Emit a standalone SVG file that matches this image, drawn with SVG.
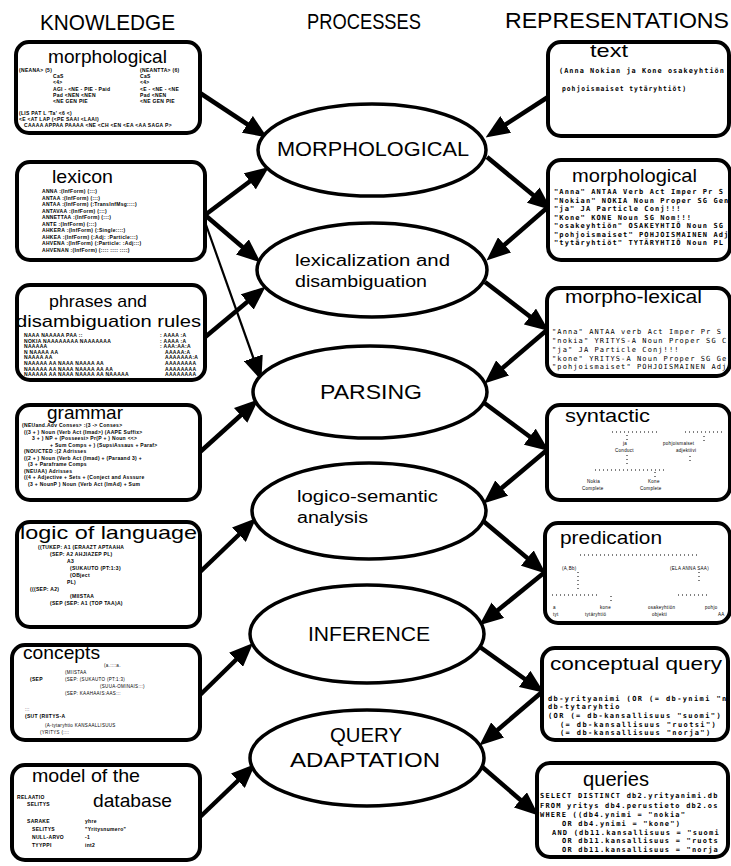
<svg xmlns="http://www.w3.org/2000/svg" width="731" height="866" viewBox="0 0 731 866">
<defs>
<marker id="ah" markerUnits="userSpaceOnUse" markerWidth="24" markerHeight="20" viewBox="0 0 24 20" refX="14" refY="10" orient="auto">
<path d="M0,0 L24,10 L0,20 z" fill="#000"/>
</marker>
<style>
.box{fill:#fff;stroke:#000;stroke-width:4}
.ell{fill:#fff;stroke:#000;stroke-width:3.5}
text{font-family:"Liberation Sans",Arial,sans-serif;fill:#000}
.hdr{font-size:22px}
.ttl{font-size:19px}
.proc{font-size:21px}
.proc2{font-size:16px}
.tiny{font-size:5px;font-weight:bold;letter-spacing:0.3px}
.tl{font-size:4.5px;letter-spacing:0.3px}
.mono{font-family:"DejaVu Sans Mono","Liberation Mono",monospace;font-size:7px;font-weight:bold;letter-spacing:1.1px}
.monol{font-family:"DejaVu Sans Mono","Liberation Mono",monospace;font-size:7px;letter-spacing:1.1px}
.conn line{stroke:#000;stroke-width:4.5;marker-end:url(#ah)}
.conn line.thin{stroke-width:2.2}
.dots{stroke:#000;stroke-width:1;stroke-dasharray:1 3;fill:none}
</style>
</defs>
<rect width="731" height="866" fill="#fff"/>

<g id="headers">
<text class="hdr" x="40" y="30" textLength="135" lengthAdjust="spacingAndGlyphs">KNOWLEDGE</text>
<text class="hdr" x="307" y="29" textLength="114" lengthAdjust="spacingAndGlyphs">PROCESSES</text>
<text class="hdr" x="505" y="28" textLength="224" lengthAdjust="spacingAndGlyphs">REPRESENTATIONS</text>
</g>

<g id="connectors" class="conn">
<line x1="200" y1="93" x2="259" y2="132"/>
<line x1="205" y1="215" x2="261" y2="173"/>
<line x1="205" y1="215" x2="253" y2="256"/>
<line class="thin" x1="205" y1="222" x2="258" y2="371"/>
<line x1="204" y1="338" x2="258" y2="293"/>
<line x1="200" y1="452" x2="251" y2="406"/>
<line x1="200" y1="572" x2="249" y2="525"/>
<line x1="200" y1="695" x2="246" y2="650"/>
<line x1="200" y1="817" x2="248" y2="771"/>
<line x1="548" y1="97" x2="494" y2="132"/>
<line x1="487" y1="157" x2="544" y2="204"/>
<line x1="548" y1="207" x2="494" y2="254"/>
<line x1="485" y1="282" x2="541" y2="325"/>
<line x1="547" y1="330" x2="492" y2="377"/>
<line x1="483" y1="402" x2="541" y2="445"/>
<line x1="547" y1="450" x2="491" y2="497"/>
<line x1="482" y1="520" x2="538" y2="567"/>
<line x1="545" y1="572" x2="487" y2="619"/>
<line x1="480" y1="647" x2="536" y2="687"/>
<line x1="542" y1="692" x2="487" y2="739"/>
<line x1="480" y1="765" x2="531" y2="809"/>
</g>

<g id="k-morphological">
<rect class="box" x="16" y="42" width="184" height="91" rx="13"/>
<text class="ttl" x="48" y="63" textLength="119" lengthAdjust="spacingAndGlyphs">morphological</text>
<text class="tiny" x="19" y="72">(NEANA&gt;  (5)</text><text class="tiny" x="140" y="72">(NEANTTA&gt;  (6)</text>
<text class="tiny" x="53" y="78">CaS</text><text class="tiny" x="140" y="78">CaS</text>
<text class="tiny" x="53" y="84">&lt;4&gt;</text><text class="tiny" x="140" y="84">&lt;4&gt;</text>
<text class="tiny" x="53" y="91">AGI - &lt;NE - PIE - Paid</text><text class="tiny" x="140" y="91">&lt;E - &lt;NE - &lt;NE</text>
<text class="tiny" x="53" y="97">Pad  &lt;NEN  &lt;NEN</text><text class="tiny" x="140" y="97">Pad  &lt;NEN</text>
<text class="tiny" x="53" y="103">&lt;NE  GEN  PIE</text><text class="tiny" x="140" y="103">&lt;NE  GEN  PIE</text>
<text class="tiny" x="19" y="115">(LIS PAT L 'Ta'  &lt;6  &lt;)</text>
<text class="tiny" x="19" y="121">&lt;E  &lt;AT  LAP  (&lt;PE  SAAI  &lt;LAAI)</text>
<text class="tiny" x="24" y="127">CAAAA APPAA PAAAA &lt;NE &lt;CH &lt;EN &lt;EA &lt;AA SAGA P&gt;</text>
</g>

<g id="k-lexicon">
<rect class="box" x="17" y="162" width="188" height="98" rx="13"/>
<text class="ttl" x="52" y="183" textLength="61" lengthAdjust="spacingAndGlyphs">lexicon</text>
<text class="tiny" x="42" y="193">ANNA :(InfForm) (:::)</text>
<text class="tiny" x="42" y="199.5">ANTAA :(InfForm) (:::)</text>
<text class="tiny" x="42" y="206">ANTAA :(InfForm) (:TransInfMsg::::)</text>
<text class="tiny" x="42" y="212.5">ANTAVAA :(InfForm) (:::)</text>
<text class="tiny" x="42" y="219">ANNETTAA :(InfForm) (:::)</text>
<text class="tiny" x="42" y="225.5">ANTE :(InfForm) (:::)</text>
<text class="tiny" x="42" y="232">AHKERA :(InfForm) (:Single::::)</text>
<text class="tiny" x="42" y="238.5">AHKEA :(InfForm) (:Adj: :Particle:::)</text>
<text class="tiny" x="42" y="245">AHVENA :(InfForm) (:Particle: :Adj:::)</text>
<text class="tiny" x="42" y="251.5">AHVENAN :(InfForm) (:::: :::: ::::)</text>
</g>

<g id="k-phrases">
<rect class="box" x="17" y="285" width="188" height="95" rx="13"/>
<text class="ttl" x="49" y="307" style="font-size:17px" textLength="98" lengthAdjust="spacingAndGlyphs">phrases and</text>
<text class="ttl" x="16" y="327" style="font-size:17px" textLength="185" lengthAdjust="spacingAndGlyphs">disambiguation rules</text>
<text class="tiny" x="24" y="337">NAAA NAAAAA PAA ::</text><text class="tiny" x="160" y="337">:  AAAA  :A</text>
<text class="tiny" x="24" y="342.6">NOKIA NAAAAAAAA NAAAAAAA</text><text class="tiny" x="160" y="342.6">:  AAAA  :A</text>
<text class="tiny" x="24" y="348.2">NAAAAA</text><text class="tiny" x="160" y="348.2">:  AAA:AA:A</text>
<text class="tiny" x="24" y="353.8">N NAAAA AA</text><text class="tiny" x="165" y="353.8">AAAAA:A</text>
<text class="tiny" x="24" y="359.4">NAAAA AA</text><text class="tiny" x="165" y="359.4">AAAAAAA:A</text>
<text class="tiny" x="24" y="365">NAAAAA AA   NAAA NAAAA AA</text><text class="tiny" x="165" y="365">AAAAAAAA</text>
<text class="tiny" x="24" y="370.6">NAAAAA AA   NAAA NAAAA AA AA</text><text class="tiny" x="165" y="370.6">AAAAAAAA</text>
<text class="tiny" x="24" y="376.2">NAAAAA AA   NAAA NAAAA AA NAAAAA</text><text class="tiny" x="165" y="376.2">AAAAAAAA</text>
</g>

<g id="k-grammar">
<rect class="box" x="17" y="405" width="183" height="95" rx="13"/>
<text class="ttl" x="47" y="419" textLength="76" lengthAdjust="spacingAndGlyphs">grammar</text>
<text class="tiny" x="22" y="427">(NEUand.Adv Conses&gt;  :(3 -&gt; Conses&gt;</text>
<text class="tiny" x="24" y="433.5">((3 + ) Noun (Verb Act (Imad&gt;) (AAPE Suffix&gt;</text>
<text class="tiny" x="32" y="440">3 + )  NP + (Posseesi&gt; Pr(P + ) Noun  &lt;&lt;&gt;</text>
<text class="tiny" x="50" y="446.5">+ Sum Comps + ) (SupsiAssaus + Paraf&gt;</text>
<text class="tiny" x="24" y="453">(NOUCTED  :(2 Adrisses</text>
<text class="tiny" x="24" y="459.5">((2 + ) Noun (Verb Act (Imad) + (Paraand 3) +</text>
<text class="tiny" x="28" y="466">(3 + Paraframe Comps</text>
<text class="tiny" x="24" y="472.5">(NEUAA)  Adrisses</text>
<text class="tiny" x="24" y="479">((4 + Adjective + Sets + (Conject and Asssure</text>
<text class="tiny" x="28" y="486">(3 + NounP ) Noun (Verb Act (ImAd) + Sum</text>
</g>

<g id="k-logic">
<rect class="box" x="17" y="522" width="183" height="105" rx="13"/>
<text class="ttl" x="20" y="539" textLength="177" lengthAdjust="spacingAndGlyphs">logic of language</text>
<text class="tiny" x="38" y="549">((TUKEP:  A1    (ERAAZT  APTAAHA</text>
<text class="tiny" x="50" y="556">(SEP:  A2    AHJIAZEP  PL)</text>
<text class="tiny" x="67" y="563">A3</text>
<text class="tiny" x="70" y="570">(SUKAUTO    (PT:1:3)</text>
<text class="tiny" x="70" y="577">(OBject</text>
<text class="tiny" x="67" y="584">PL)</text>
<text class="tiny" x="30" y="591">(((SEP:  A2)</text>
<text class="tiny" x="70" y="598">(MIISTAA</text>
<text class="tiny" x="50" y="605">(SEP    (SEP:  A1    (TOP  TAA)A)</text>
</g>

<g id="k-concepts">
<rect class="box" x="12" y="645" width="188" height="95" rx="13"/>
<text class="ttl" x="23" y="659" textLength="77" lengthAdjust="spacingAndGlyphs">concepts</text>
<text class="tl" x="104" y="667">(a.::::a.</text>
<text class="tl" x="65" y="674">(MIISTAA</text>
<text class="tiny" x="30" y="681">(SEP</text><text class="tl" x="65" y="681">(SEP:  (SUKAUTO  (PT:1:3)</text>
<text class="tl" x="100" y="688">(SUUA-OMINAIS:::)</text>
<text class="tl" x="65" y="695">(SEP:  KAAHAAIS:AAS:::</text>
<text class="tl" x="25" y="711">:::</text>
<text class="tiny" x="25" y="718">(SUT  (RIITYS-A</text>
<text class="tl" x="45" y="727">(A-tytaryhtio  KANSAALLISUUS</text>
<text class="tl" x="40" y="734">(YRITYS    (::::</text>
</g>

<g id="k-model">
<rect class="box" x="12" y="765" width="188" height="95" rx="13"/>
<text class="ttl" x="32" y="782" textLength="108" lengthAdjust="spacingAndGlyphs">model of the</text>
<text class="ttl" x="93" y="807" textLength="79" lengthAdjust="spacingAndGlyphs">database</text>
<text class="tiny" x="17" y="799">RELAATIO</text>
<text class="tiny" x="27" y="806">SELITYS</text>
<text class="tiny" x="27" y="823">SARAKE</text><text class="tiny" x="85" y="823">yhre</text>
<text class="tiny" x="32" y="831">SELITYS</text><text class="tiny" x="85" y="831">"Yritysnumero"</text>
<text class="tiny" x="32" y="839">NULL-ARVO</text><text class="tiny" x="85" y="839">-1</text>
<text class="tiny" x="32" y="847">TYYPPI</text><text class="tiny" x="85" y="847">int2</text>
</g>

<g id="p-morphological">
<ellipse class="ell" cx="372" cy="150" rx="114" ry="46"/>
<text class="proc" x="277" y="156" textLength="192" lengthAdjust="spacingAndGlyphs">MORPHOLOGICAL</text>
</g>
<g id="p-lexicalization">
<ellipse class="ell" cx="372" cy="270" rx="115" ry="47"/>
<text class="proc2" x="295" y="266" textLength="155" lengthAdjust="spacingAndGlyphs">lexicalization and</text>
<text class="proc2" x="295" y="287" textLength="132" lengthAdjust="spacingAndGlyphs">disambiguation</text>
</g>
<g id="p-parsing">
<ellipse class="ell" cx="370" cy="392" rx="117" ry="46"/>
<text class="proc" x="320" y="399" textLength="102" lengthAdjust="spacingAndGlyphs">PARSING</text>
</g>
<g id="p-logico">
<ellipse class="ell" cx="369" cy="511" rx="117" ry="48"/>
<text class="proc2" x="297" y="502" textLength="141" lengthAdjust="spacingAndGlyphs">logico-semantic</text>
<text class="proc2" x="297" y="523" textLength="71" lengthAdjust="spacingAndGlyphs">analysis</text>
</g>
<g id="p-inference">
<ellipse class="ell" cx="367" cy="634" rx="117" ry="49"/>
<text class="proc" x="308" y="641" textLength="122" lengthAdjust="spacingAndGlyphs">INFERENCE</text>
</g>
<g id="p-query">
<ellipse class="ell" cx="367" cy="758" rx="117" ry="48"/>
<text class="proc" x="330" y="742" textLength="72" lengthAdjust="spacingAndGlyphs">QUERY</text>
<text class="proc" x="290" y="767" textLength="150" lengthAdjust="spacingAndGlyphs">ADAPTATION</text>
</g>

<g id="r-text">
<rect class="box" x="548" y="42" width="181" height="94" rx="13"/>
<text class="ttl" x="590" y="57" textLength="38" lengthAdjust="spacingAndGlyphs">text</text>
<text class="mono" x="559" y="73" textLength="166" lengthAdjust="spacingAndGlyphs">(Anna Nokian ja Kone osakeyhtiön</text>
<text class="mono" x="562" y="91" textLength="125" lengthAdjust="spacingAndGlyphs">pohjoismaiset tytäryhtiöt)</text>
</g>

<g id="r-morphological">
<rect class="box" x="548" y="160" width="182" height="100" rx="13"/>
<text class="ttl" x="572" y="182" textLength="125" lengthAdjust="spacingAndGlyphs">morphological</text>
<text class="mono" x="554" y="194">"Anna" ANTAA Verb Act Imper Pr S</text>
<text class="mono" x="554" y="202.5">"Nokian" NOKIA Noun Proper SG Gen</text>
<text class="mono" x="554" y="211">"ja" JA Particle Conj!!!</text>
<text class="mono" x="554" y="219.5">"Kone" KONE Noun SG Nom!!!</text>
<text class="mono" x="554" y="228">"osakeyhtiön" OSAKEYHTIÖ Noun SG</text>
<text class="mono" x="554" y="236.5">"pohjoismaiset" POHJOISMAINEN Adj</text>
<text class="mono" x="554" y="245">"tytäryhtiöt" TYTÄRYHTIÖ Noun PL</text>
</g>

<g id="r-morpholexical">
<rect class="box" x="547" y="288" width="183" height="88" rx="13"/>
<text class="ttl" x="565" y="303" textLength="137" lengthAdjust="spacingAndGlyphs">morpho-lexical</text>
<text class="monol" x="552" y="334">"Anna" ANTAA verb Act Imper Pr S</text>
<text class="monol" x="552" y="343">"nokia" YRITYS-A Noun Proper SG C</text>
<text class="monol" x="552" y="352">"ja" JA Particle Conj!!!</text>
<text class="monol" x="552" y="361">"kone" YRITYS-A Noun Proper SG Ge</text>
<text class="monol" x="552" y="369">"pohjoismaiset" POHJOISMAINEN Adj</text>
</g>

<g id="r-syntactic">
<rect class="box" x="547" y="405" width="183" height="95" rx="13"/>
<text class="ttl" x="565" y="422" textLength="85" lengthAdjust="spacingAndGlyphs">syntactic</text>
<path class="dots" d="M612,432 H660 M685,432 H722 M627,435 V440 M627,455 V466 M595,470 H665 M655,472 V478 M704,436 V441 M690,456 V461"/>
<text class="tl" x="623" y="445">ja</text>
<text class="tl" x="615" y="452">Conduct</text>
<text class="tl" x="663" y="445">pohjoismaiset</text>
<text class="tl" x="676" y="452">adjektiivi</text>
<text class="tl" x="587" y="483">Nokia</text>
<text class="tl" x="582" y="490">Complete</text>
<text class="tl" x="648" y="483">Kone</text>
<text class="tl" x="640" y="490">Complete</text>
</g>

<g id="r-predication">
<rect class="box" x="545" y="523" width="185" height="100" rx="13"/>
<text class="ttl" x="560" y="544" textLength="102" lengthAdjust="spacingAndGlyphs">predication</text>
<path class="dots" d="M580,555 H700 M578,572 V590 M699,572 V584 M552,595 H600 M678,595 H710 M611,596 V602"/>
<text class="tl" x="562" y="570">(A,Bb)</text>
<text class="tl" x="670" y="570">(ELA ANNA SAA)</text>
<text class="tl" x="553" y="609">a</text>
<text class="tl" x="600" y="609">kone</text>
<text class="tl" x="648" y="609">osakeyhtiön</text>
<text class="tl" x="705" y="609">pohjo</text>
<text class="tl" x="553" y="616">tyt</text>
<text class="tl" x="585" y="616">tytäryhtiö</text>
<text class="tl" x="652" y="616">objekti</text>
<text class="tl" x="718" y="616">AA</text>
</g>

<g id="r-conceptual">
<rect class="box" x="542" y="648" width="186" height="92" rx="13"/>
<text class="ttl" x="550" y="670" textLength="172" lengthAdjust="spacingAndGlyphs">conceptual query</text>
<text class="mono" x="548" y="701" style="letter-spacing:1.4px">db-yrityanimi (OR (= db-ynimi "n</text>
<text class="mono" x="548" y="709" style="letter-spacing:1.4px">db-tytaryhtio</text>
<text class="mono" x="548" y="718" style="letter-spacing:1.4px">(OR (= db-kansallisuus "suomi")</text>
<text class="mono" x="560" y="727" style="letter-spacing:1.4px">(= db-kansallisuus "ruotsi")</text>
<text class="mono" x="560" y="735" style="letter-spacing:1.4px">(= db-kansallisuus "norja")</text>
</g>

<g id="r-queries">
<rect class="box" x="537" y="763" width="191" height="94" rx="13"/>
<text class="ttl" x="583" y="786" style="font-size:21px" textLength="66" lengthAdjust="spacingAndGlyphs">queries</text>
<text class="mono" x="540" y="798" style="letter-spacing:1.2px">SELECT DISTINCT db2.yrityanimi.db</text>
<text class="mono" x="540" y="808" style="letter-spacing:1.2px">FROM yritys db4.perustieto db2.os</text>
<text class="mono" x="540" y="817" style="letter-spacing:1.2px">WHERE ((db4.ynimi = "nokia"</text>
<text class="mono" x="562" y="826" style="letter-spacing:1.2px">OR db4.ynimi = "kone")</text>
<text class="mono" x="552" y="835" style="letter-spacing:1.2px">AND (db11.kansallisuus = "suomi</text>
<text class="mono" x="562" y="843" style="letter-spacing:1.2px">OR db11.kansallisuus = "ruots</text>
<text class="mono" x="562" y="852" style="letter-spacing:1.2px">OR db11.kansallisuus = "norja</text>
</g>
</svg>
